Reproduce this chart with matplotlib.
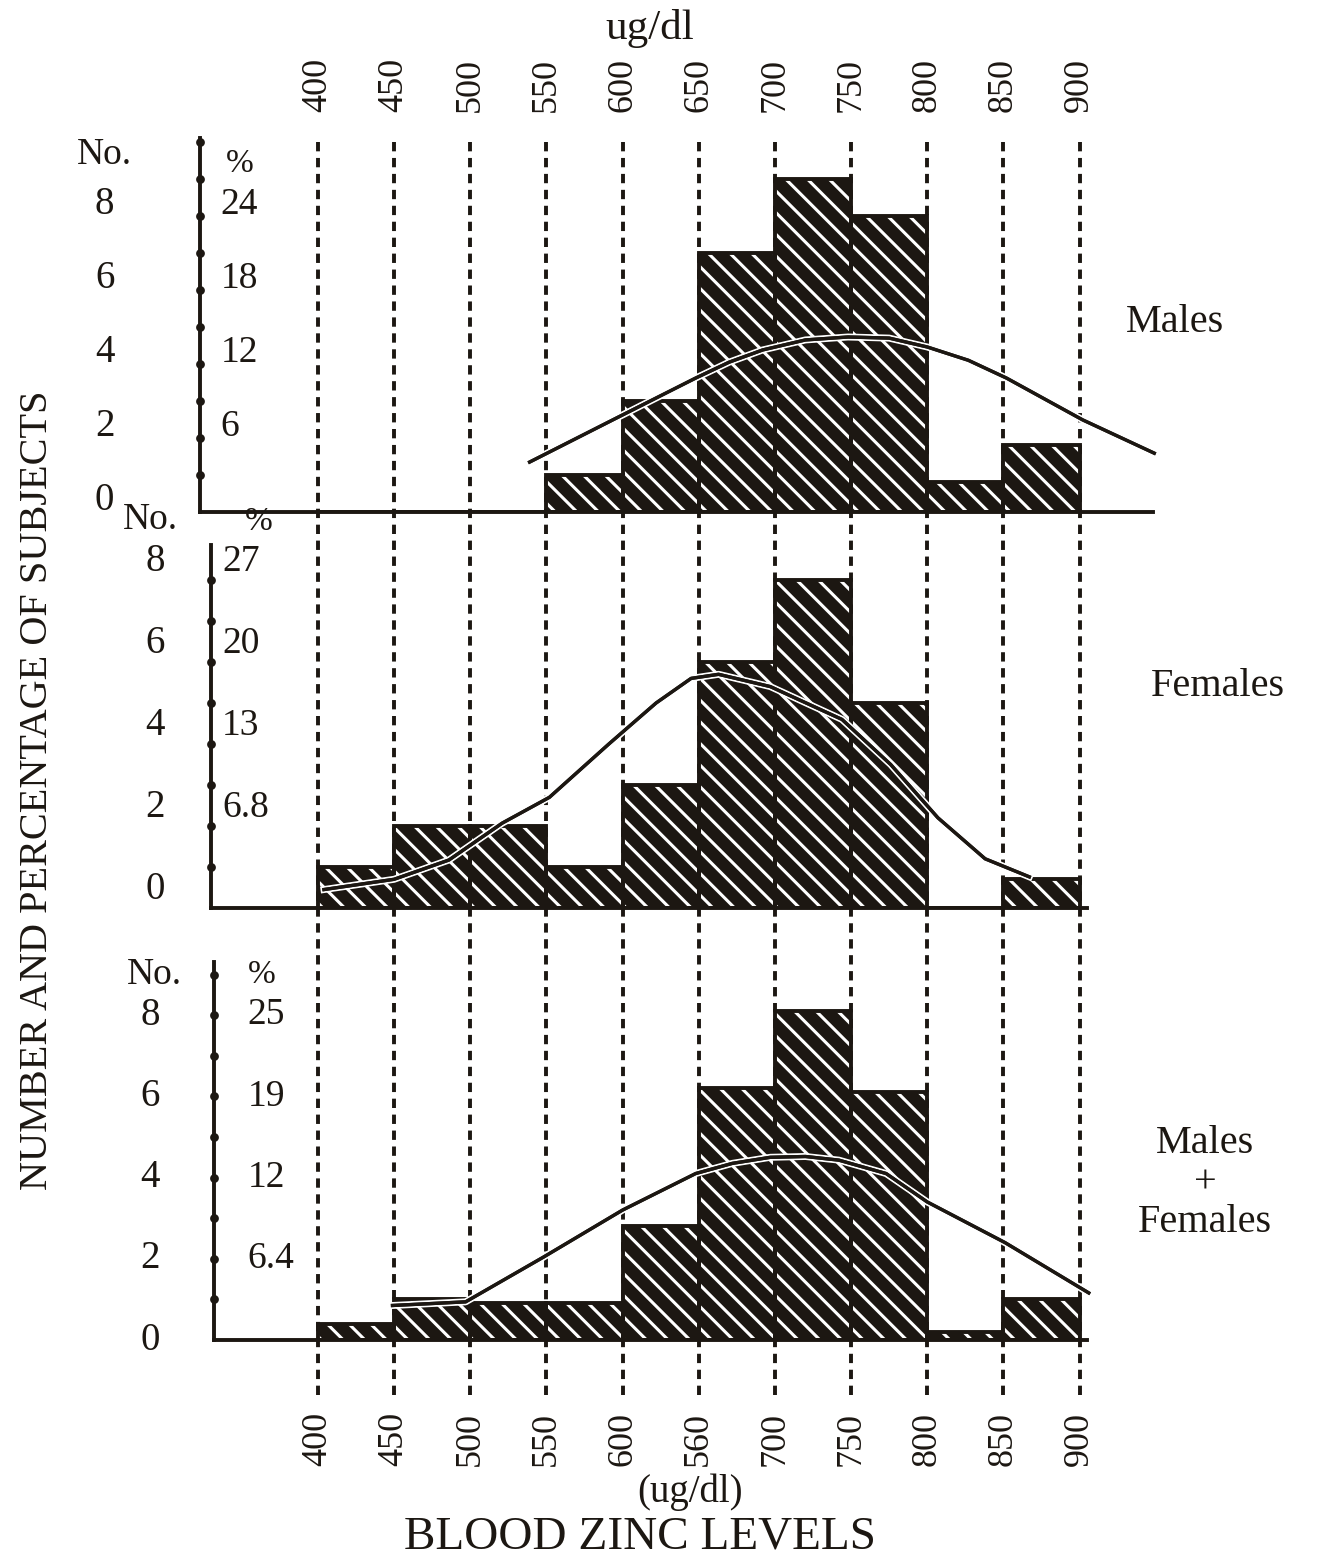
import numpy as np
import matplotlib
matplotlib.use('Agg')
from matplotlib import pyplot as plt
import matplotlib.patheffects as pe

# bins of blood zinc level (ug/dl), left edges, width 50
bin_left = [400, 450, 500, 550, 600, 650, 700, 750, 800, 850]
males = [0, 0, 0, 1, 3, 7, 9, 8, 0.8, 1.8]
females = [1, 2, 2, 1, 3, 6, 8, 5, 0, 0.7]
both = [0.4, 1, 0.9, 0.9, 2.8, 6.2, 8.1, 6.1, 0.2, 1.0]

# fitted curves
male_cx = [539, 596, 648, 670, 692, 720, 748, 775, 800, 827, 852, 902, 949]
male_cy = [1.35, 2.54, 3.62, 4.05, 4.38, 4.65, 4.73, 4.7, 4.46, 4.1, 3.62, 2.49, 1.59]
fem_cx = [404, 450, 486, 521, 552, 591, 622, 645, 663, 697, 744, 776, 807, 838, 867]
fem_cy = [0.45, 0.7, 1.17, 2.07, 2.7, 4.0, 5.0, 5.6, 5.7, 5.4, 4.6, 3.5, 2.2, 1.2, 0.76]
both_cx = [449, 497, 548, 600, 648, 672, 697, 720, 742, 773, 800, 851, 906]
both_cy = [0.85, 0.94, 2.04, 3.2, 4.1, 4.35, 4.5, 4.52, 4.43, 4.1, 3.4, 2.4, 1.16]

grid_vals = [400, 450, 500, 550, 600, 650, 700, 750, 800, 850, 900]
top_labels = ['400', '450', '500', '550', '600', '650', '700', '750', '800', '850', '900']
bottom_labels = ['400', '450', '500', '550', '600', '560', '700', '750', '800', '850', '900']

num_ticks = [0, 2, 4, 6, 8]
male_pct = ['6', '12', '18', '24']
fem_pct = ['6.8', '13', '20', '27']
both_pct = ['6.4', '12', '19', '25']

INK = '#1c1712'
DPI = 130
S = 100 / DPI  # sizes below are tuned as if at 100 dpi

plt.rcParams['font.family'] = ['Liberation Serif', 'DejaVu Serif']
plt.rcParams['hatch.linewidth'] = 1.7

W, H = 1317, 1556
fig = plt.figure(figsize=(W / DPI, H / DPI), dpi=DPI)

XL, XR = 320, 960
ax_left = 196 / W
ax_w = (1171 - 196) / W


def fy(px):
    return 1 - px / H


# background axes with the dotted guide lines and the value labels
bg = fig.add_axes([ax_left, fy(1395), ax_w, (1395 - 140) / H])
bg.set_xlim(XL, XR)
bg.set_ylim(0, 1)
for v in grid_vals:
    bg.axvline(v, color=INK, lw=2.8 * S, ls=(0, (2.4, 1.7)))
for s in bg.spines.values():
    s.set_visible(False)
bg.set_yticks([])
bg.set_xticks(grid_vals)
bg.set_xticklabels(bottom_labels, rotation=90, fontsize=26 * S, color=INK)
bg.tick_params(axis='x', length=0, pad=12 * S)
top = bg.secondary_xaxis('top')
top.set_xticks(grid_vals)
top.set_xticklabels(top_labels, rotation=90, fontsize=26 * S, color=INK)
top.tick_params(length=0, pad=20 * S)
for s in top.spines.values():
    s.set_visible(False)


def panel(base_px, top_px, px_per_unit, counts, cx, cy, pcts, spine_x, right_end,
          spine_top, num_x, pct_x, lab_dy, no_xy, pc_xy):
    ax = fig.add_axes([ax_left, fy(base_px), ax_w, (base_px - top_px) / H])
    ax.set_facecolor('none')
    ax.set_xlim(XL, XR)
    ax.set_ylim(0, (base_px - top_px) / px_per_unit)
    # dark bars with light diagonal stripes, then the outlines
    ax.bar(bin_left, counts, width=50, align='edge', color=INK,
           edgecolor='white', lw=0, hatch='\\\\', zorder=2)
    ax.bar(bin_left, counts, width=50, align='edge', facecolor='none',
           edgecolor=INK, lw=2.8 * S, zorder=2.5)
    ax.plot(cx, cy, color=INK, lw=2.4 * S, zorder=3,
            path_effects=[pe.withStroke(linewidth=5 * S, foreground='white'), pe.Normal()])
    for k in ['top', 'right']:
        ax.spines[k].set_visible(False)
    ax.spines['left'].set_position(('data', spine_x))
    ax.spines['left'].set_bounds(0, spine_top)
    ax.spines['bottom'].set_bounds(spine_x, right_end)
    for k in ['left', 'bottom']:
        ax.spines[k].set_linewidth(2.8 * S)
        ax.spines[k].set_color(INK)
    ax.set_xticks([])
    ax.set_yticks([])
    ax.plot([spine_x] * int(spine_top), range(1, int(spine_top) + 1), 'o',
            color=INK, ms=5 * S, clip_on=False, zorder=4)
    for t in num_ticks:
        ax.text(num_x, t + lab_dy, str(t), ha='center', va='center',
                fontsize=28 * S, color=INK, clip_on=False)
    for t, lab in zip(num_ticks[1:], pcts):
        ax.text(pct_x, t + lab_dy, lab, ha='left', va='center',
                fontsize=27 * S, color=INK, clip_on=False)
    ax.text(no_xy[0], no_xy[1], 'No.', ha='center', va='center',
            fontsize=27 * S, color=INK, clip_on=False)
    ax.text(pc_xy[0], pc_xy[1], '%', ha='center', va='center',
            fontsize=24 * S, color=INK, clip_on=False)
    return ax


panel(512, 120, 37, males, male_cx, male_cy, male_pct, 322.6, 948, 10.1,
      260, 336, 0.3, (260, 9.65), (349, 9.4))
panel(908, 530, 41, females, fem_cx, fem_cy, fem_pct, 330, 905, 8.85,
      293, 337, 0.45, (290, 9.46), (361, 9.42))
panel(1340, 950, 40.6, both, both_cx, both_cy, both_pct, 332, 905, 9.3,
      290, 354, 0.0, (293, 9.0), (363, 9.0))

fig.text(1175 / W, fy(322), 'Males', ha='center', va='center', fontsize=29 * S, color=INK)
fig.text(1218 / W, fy(686), 'Females', ha='center', va='center', fontsize=29 * S, color=INK)
fig.text(1205 / W, fy(1183), 'Males\n+\nFemales', ha='center', va='center',
         fontsize=29 * S, color=INK, linespacing=1.1)

fig.text(38 / W, fy(790), 'NUMBER AND PERCENTAGE OF SUBJECTS', rotation=90,
         ha='center', va='center', fontsize=29 * S, color=INK)
fig.text(650 / W, fy(28), 'ug/dl', ha='center', va='center', fontsize=31 * S, color=INK)
fig.text(690 / W, fy(1492), '(ug/dl)', ha='center', va='center', fontsize=28 * S, color=INK)
fig.text(640 / W, fy(1537), 'BLOOD ZINC LEVELS', ha='center', va='center',
         fontsize=34 * S, color=INK)

fig.savefig('out.png', dpi=DPI, facecolor='white')
